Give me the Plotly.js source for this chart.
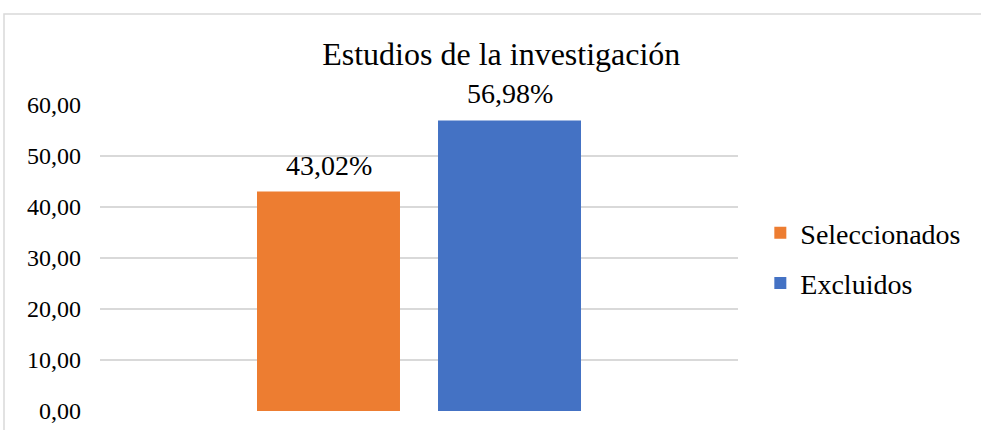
<!DOCTYPE html>
<html>
<head>
<meta charset="utf-8">
<script src="https://cdn.plot.ly/plotly-3.0.1.min.js"></script>
<style>html,body{margin:0;padding:0;background:#fff;}#chart{width:981px;height:430px;}</style>
</head>
<body>
<div id="chart"></div>
<script>
var seriesNames = ["Seleccionados", "Excluidos"];
var seriesValues = [43.02, 56.98];
var seriesColors = ["#ED7D31", "#4472C4"];
var category = ["Estudios"];
var yTicks = [0, 10, 20, 30, 40, 50, 60];
var chartTitle = "Estudios de la investigación";

var FONT = "'Liberation Serif', 'Times New Roman', serif";
var traces = seriesNames.map(function (n, i) {
  return {
    type: "bar",
    name: n,
    legendgroup: "g" + i,
    x: category,
    y: [seriesValues[i]],
    marker: {color: seriesColors[i]},
    hoverinfo: "skip"
  };
});

var labelShift = [-90.5, 90.5];
var annotations = seriesValues.map(function (v, i) {
  return {
    x: category[0], y: v, xref: "x", yref: "y",
    text: v.toFixed(2).replace(".", ",") + "%",
    showarrow: false, xanchor: "center", yanchor: "bottom",
    xshift: labelShift[i], yshift: 9,
    font: {family: FONT, size: 28, color: "#000"}
  };
});

var layout = {
  width: 981, height: 430,
  margin: {l: 100, r: 243, t: 105, b: 19},
  paper_bgcolor: "#fff", plot_bgcolor: "#fff",
  separators: ",.",
  barmode: "group",
  bargap: 0.4326,
  bargroupgap: 0.21,
  showlegend: true,
  font: {family: FONT, color: "#000"},
  title: {text: chartTitle, font: {family: FONT, size: 32, color: "#000"},
          xref: "container", x: 0.511, xanchor: "center",
          yref: "container", y: 1 - 54 / 430, yanchor: "middle"},
  xaxis: {showticklabels: false, showgrid: false, zeroline: false, showline: false, ticks: "", fixedrange: true},
  yaxis: {range: [0, 60], tickvals: yTicks, tickformat: ".2f",
          showgrid: true, gridcolor: "#d9d9d9", gridwidth: 1.5,
          zeroline: false, showline: false, ticks: "",
          ticklabelstandoff: 18,
          tickfont: {family: FONT, size: 24, color: "#000"}},
  legend: {x: 1.035, xanchor: "left", y: 0.5, yanchor: "middle",
           font: {family: FONT, size: 28, color: "#000"},
           traceorder: "grouped", tracegroupgap: 11, itemwidth: 30, bgcolor: "rgba(0,0,0,0)"},
  annotations: annotations,
  shapes: [{type: "rect", xref: "paper", yref: "paper",
            x0: (4 - 100) / 638, x1: 1.6, y0: -0.5, y1: (411 - 14) / 306,
            line: {color: "#d9d9d9", width: 1.5}, fillcolor: "rgba(0,0,0,0)", layer: "below"}]
};

Plotly.newPlot("chart", traces, layout, {displayModeBar: false, staticPlot: true});
</script>
</body>
</html>
